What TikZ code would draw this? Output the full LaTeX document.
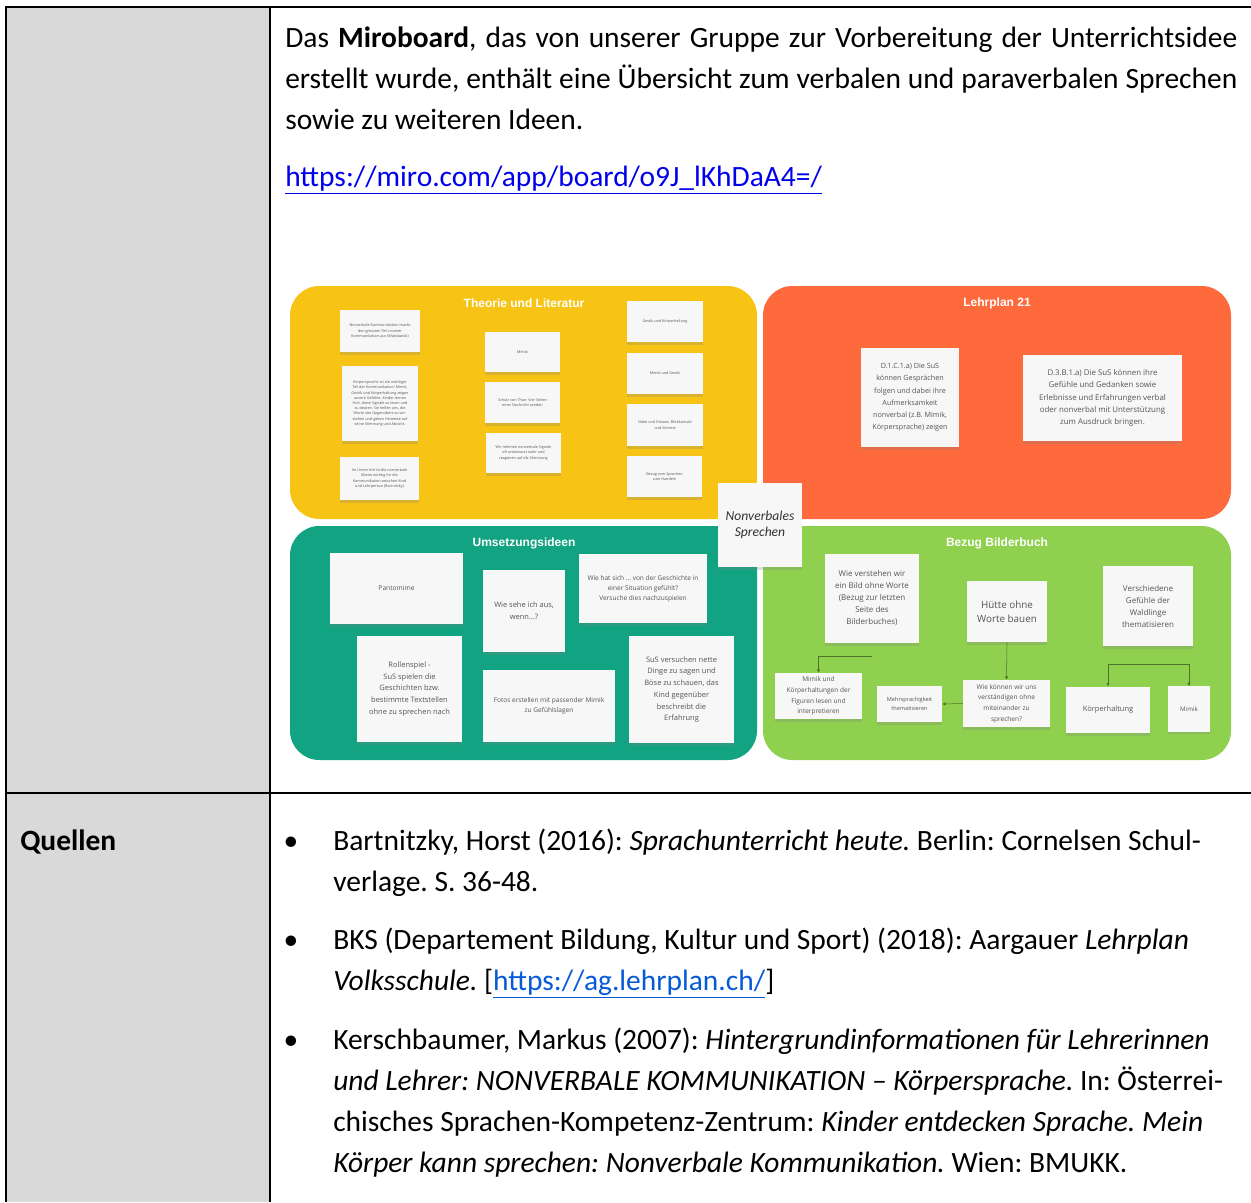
\documentclass[tikz,border=0pt]{standalone}
\usepackage{fontspec}
\setmainfont{Carlito}
\newfontfamily\boardfont{Liberation Sans}
\newfontfamily\notefont{Open Sans}
\usetikzlibrary{shadows,arrows.meta}
\frenchspacing

\definecolor{cellgray}{RGB}{217,217,217}
\definecolor{linkblue}{RGB}{0,0,235}
\definecolor{linkbluetwo}{RGB}{5,90,215}
\definecolor{miroyellow}{RGB}{247,196,21}
\definecolor{miroorange}{RGB}{255,106,61}
\definecolor{miroteal}{RGB}{18,163,131}
\definecolor{mirogreen}{RGB}{143,209,79}
\definecolor{notetext}{RGB}{85,85,85}

% one justified line of the top paragraph
\newcommand\jline[1]{\makebox[714pt][s]{#1}}

\begin{document}
\begin{tikzpicture}[x=0.75pt, y=-0.75pt,
                    every node/.style = {inner sep = 0pt},
                    bodytext/.style   = {anchor = north west,
                                         align  = left,
                                         font   = \fontsize{22.1}{30.75}\selectfont},
                    boardtitle/.style = {font = \boardfont\bfseries\fontsize{9}{10}\selectfont,
                                         text = white},
                    stickynote/.style = {fill        = white!97!black,
                                         drop shadow = {shadow xshift = 0pt,
                                                        shadow yshift = -2pt,
                                                        opacity       = .25},
                                         align       = center,
                                         text        = notetext,
                                         font        = \notefont\fontsize{5.6}{8.8}\selectfont},
                    smallnote/.style  = {stickynote,
                                         font = \notefont\fontsize{2.8}{3.9}\selectfont},
                    flowline/.style   = {mirogreen!55!black,
                                         line width = .4pt,
                                         -{Latex[length=2.5pt,width=2.5pt]}}]

\useasboundingbox (0,0) rectangle (1251,1202);

% the table
\fill[cellgray] (7,8) rectangle (269,1202);
\draw[line width=1.5pt] (5,7) -- (1251,7);
\draw[line width=1.5pt] (6,7) -- (6,1202);
\draw[line width=1.5pt] (270,7) -- (270,1202);
\draw[line width=1.5pt] (5,793) -- (1251,793);

% first row : text and link
\node[bodytext] (intro) at (285,18.3)
  {\strut\jline{Das \textbf{Miroboard}, das von unserer Gruppe zur Vorbereitung der Unterrichtsidee}\\
   \jline{erstellt wurde, enthält eine Übersicht zum verbalen und paraverbalen Sprechen}\\
   sowie zu weiteren Ideen.};
\node[bodytext] (miroLink) at (285,157.3)
  {\strut\textcolor{linkblue}{\underline{https://miro.com/app/board/o9J\_lKhDaA4=/}}};

% the board : four areas
\fill[miroyellow, rounded corners=22pt] (290,286) rectangle (757,519);
\fill[miroorange, rounded corners=22pt] (763,286) rectangle (1231,519);
\fill[miroteal,   rounded corners=22pt] (290,526) rectangle (757,760);
\fill[mirogreen,  rounded corners=22pt] (763,526) rectangle (1231,760);

\node[boardtitle] (theorie)  at (524,303) {Theorie und Literatur};
\node[boardtitle] (lehrplan) at (997,303) {Lehrplan 21};
\node[boardtitle] (umsetz)   at (524,543) {Umsetzungsideen};
\node[boardtitle] (bezug)    at (997,543) {Bezug Bilderbuch};

% Theorie und Literatur
\node[smallnote, minimum width=60pt,    minimum height=31.5pt]  (t1)  at (380,331)
  {Nonverbale Kommunikation macht\\den grössten Teil unserer\\Kommunikation aus (Watzlawick)};
\node[smallnote, minimum width=57pt,    minimum height=56.25pt] (t2)  at (380,403.5)
  {Körpersprache ist ein wichtiger\\Teil der Kommunikation: Mimik,\\Gestik und Körperhaltung zeigen\\unsere Gefühle. Kinder lernen\\früh, diese Signale zu lesen und\\zu deuten. Sie helfen uns, die\\Worte des Gegenübers zu ver-\\stehen und geben Hinweise auf\\seine Stimmung und Absicht.};
\node[smallnote, minimum width=59.25pt, minimum height=32.25pt] (t3)  at (379.5,478.5)
  {Im Unterricht ist die nonverbale\\Ebene wichtig für die\\Kommunikation zwischen Kind\\und Lehrperson (Bartnitzky)};
\node[smallnote, minimum width=56.25pt, minimum height=30pt]    (t4)  at (522.5,352)
  {Mimik};
\node[smallnote, minimum width=56.25pt, minimum height=30.75pt] (t5)  at (522.5,402.5)
  {Schulz von Thun: Vier Seiten\\einer Nachricht senden};
\node[smallnote, minimum width=56.25pt, minimum height=30pt]    (t6)  at (523.5,453)
  {Wir nehmen nonverbale Signale\\oft unbewusst wahr und\\reagieren auf die Stimmung};
\node[smallnote, minimum width=57pt,    minimum height=30.75pt] (t7)  at (665,321.5)
  {Gestik und Körperhaltung};
\node[smallnote, minimum width=57pt,    minimum height=30.75pt] (t8)  at (665,373.5)
  {Mimik und Gestik};
\node[smallnote, minimum width=57pt,    minimum height=31.5pt]  (t9)  at (665,425)
  {Nähe und Distanz, Blickkontakt\\und Stimme};
\node[smallnote, minimum width=56.25pt, minimum height=30.75pt] (t10) at (664.5,476.5)
  {Bezug vom Sprechen\\zum Handeln};

% Lehrplan 21
\node[stickynote, minimum width=73.5pt, minimum height=74.25pt,
      font=\notefont\fontsize{5.4}{9.2}\selectfont] (lp1) at (910,397.5)
  {D.1.C.1.a) Die SuS\\können Gesprächen\\folgen und dabei ihre\\Aufmerksamkeit\\nonverbal (z.B. Mimik,\\Körpersprache) zeigen};
\node[stickynote, minimum width=119.25pt, minimum height=64.5pt,
      font=\notefont\fontsize{5.9}{9.2}\selectfont] (lp2) at (1102.5,398)
  {D.3.B.1.a) Die SuS können ihre\\Gefühle und Gedanken sowie\\Erlebnisse und Erfahrungen verbal\\oder nonverbal mit Unterstützung\\zum Ausdruck bringen.};

% Umsetzungsideen
\node[stickynote, minimum width=99.75pt, minimum height=53.25pt,
      font=\notefont\fontsize{5}{7.5}\selectfont] (u1) at (396.5,588.5) {Pantomime};
\node[stickynote, minimum width=61.5pt, minimum height=61.5pt] (u2) at (524,611)
  {Wie sehe ich aus,\\wenn...?};
\node[stickynote, minimum width=96pt, minimum height=51.75pt,
      font=\notefont\fontsize{4.9}{7.5}\selectfont] (u3) at (643,588.5)
  {Wie hat sich ... von der Geschichte in\\einer Situation gefühlt?\\Versuche dies nachzuspielen};
\node[stickynote, minimum width=78.75pt, minimum height=79.5pt] (u4) at (409.5,689)
  {Rollenspiel -\\SuS spielen die\\Geschichten bzw.\\bestimmte Textstellen\\ohne zu sprechen nach};
\node[stickynote, minimum width=99pt, minimum height=54pt,
      font=\notefont\fontsize{4.9}{7.5}\selectfont] (u5) at (549,706)
  {Fotos erstellen mit passender Mimik\\zu Gefühlslagen};
\node[stickynote, minimum width=78.75pt, minimum height=80.25pt] (u6) at (681.5,689.5)
  {SuS versuchen nette\\Dinge zu sagen und\\Böse zu schauen, das\\Kind gegenüber\\beschreibt die\\Erfahrung};

% Bezug Bilderbuch
\node[stickynote, minimum width=70.5pt, minimum height=66.75pt,
      font=\notefont\fontsize{6}{9}\selectfont] (b1) at (872,598.5)
  {Wie verstehen wir\\ein Bild ohne Worte\\(Bezug zur letzten\\Seite des\\Bilderbuches)};
\node[stickynote, minimum width=60pt, minimum height=45.75pt,
      font=\notefont\fontsize{7.4}{10.5}\selectfont] (b2) at (1007,611.5)
  {Hütte ohne\\Worte bauen};
\node[stickynote, minimum width=67.5pt, minimum height=60pt,
      font=\notefont\fontsize{6}{9}\selectfont] (b3) at (1148,606)
  {Verschiedene\\Gefühle der\\Waldlinge\\thematisieren};
\node[stickynote, minimum width=65.25pt, minimum height=34.5pt,
      font=\notefont\fontsize{4.9}{8}\selectfont] (b4) at (818.5,696)
  {Mimik und\\Körperhaltungen der\\Figuren lesen und\\interpretieren};
\node[stickynote, minimum width=48.75pt, minimum height=27pt,
      font=\notefont\fontsize{4.2}{6.5}\selectfont] (b5) at (909.5,704)
  {Mehrsprachigkeit\\thematisieren};
\node[stickynote, minimum width=65.25pt, minimum height=35.25pt,
      font=\notefont\fontsize{4.9}{8}\selectfont] (b6) at (1006.5,703.5)
  {Wie können wir uns\\verständigen ohne\\miteinander zu\\sprechen?};
\node[stickynote, minimum width=63pt, minimum height=35pt,
      font=\notefont\fontsize{5.6}{8}\selectfont] (b7) at (1108,710)
  {Körperhaltung};
\node[stickynote, minimum width=31.5pt, minimum height=34pt,
      font=\notefont\fontsize{4.6}{7}\selectfont] (b8) at (1189,709)
  {Mimik};

% connectors
\draw[flowline] (b1.south) ++(0,13) -| (b4.north);
\draw[flowline] (b2.south) -- (b6.north);
\draw[flowline] (b6.west) -- (b5.east);
\draw[flowline] (b3.south) ++(0,18) -| (b7.north);
\draw[flowline] (b3.south) ++(0,18) -| (b8.north);

% the note in the middle
\node[stickynote, minimum width=63pt, minimum height=63pt, text=black!80,
      font=\itshape\fontsize{10.2}{12.5}\selectfont] (nonverbal) at (760,525)
  {Nonverbales\\Sprechen};

% second row : sources
\node[bodytext] (quellen) at (20,821.3) {\strut\textbf{Quellen}};

\node[anchor=base, font=\fontsize{22.1}{30.75}\selectfont] (dot1) at (291,850) {\textbullet};
\node[anchor=base, font=\fontsize{22.1}{30.75}\selectfont] (dot2) at (291,949) {\textbullet};
\node[anchor=base, font=\fontsize{22.1}{30.75}\selectfont] (dot3) at (291,1049) {\textbullet};

\node[bodytext] (src1) at (333,821.3)
  {\strut Bartnitzky, Horst (2016): \textit{Sprachunterricht heute.} Berlin: Cornelsen Schul-\\
   verlage. S. 36-48.};
\node[bodytext] (src2) at (333,920.3)
  {\strut BKS (Departement Bildung, Kultur und Sport) (2018): Aargauer \textit{Lehrplan}\\
   \textit{Volksschule.} [\textcolor{linkbluetwo}{\underline{https://ag.lehrplan.ch/}}]};
\node[bodytext] (src3) at (333,1020.3)
  {\strut Kerschbaumer, Markus (2007): \textit{Hintergrundinformationen für Lehrerinnen}\\
   \textit{und Lehrer: NONVERBALE KOMMUNIKATION -- Körpersprache.} In: Österrei-\\
   chisches Sprachen-Kompetenz-Zentrum: \textit{Kinder entdecken Sprache. Mein}\\
   \textit{Körper kann sprechen: Nonverbale Kommunikation.} Wien: BMUKK.};
\end{tikzpicture}
\end{document}
